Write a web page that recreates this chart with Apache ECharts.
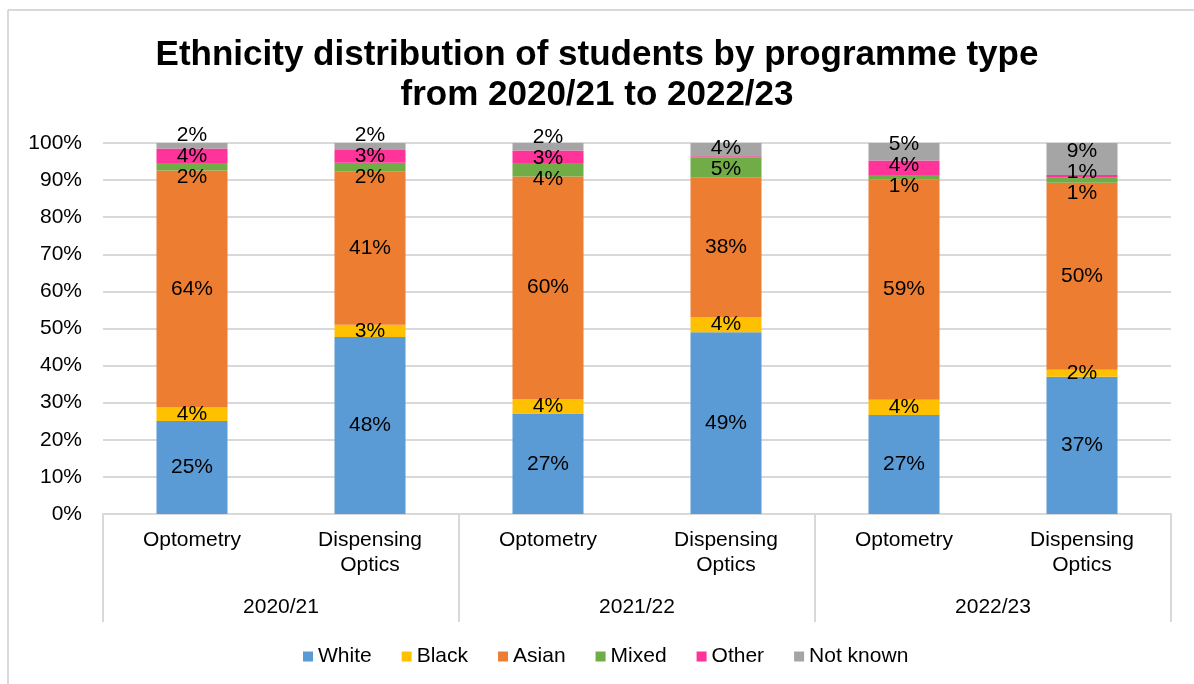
<!DOCTYPE html>
<html>
<head>
<meta charset="utf-8">
<script src="https://cdn.jsdelivr.net/npm/echarts@6/dist/echarts.min.js"></script>
<style>
  html, body { margin: 0; padding: 0; background: #fff; }
  #chart { width: 1194px; height: 684px; }
</style>
</head>
<body>
<div id="chart"></div>
<script>
// Programmes within each academic year
const programmes = ['Optometry', 'Dispensing\nOptics', 'Optometry', 'Dispensing\nOptics', 'Optometry', 'Dispensing\nOptics'];
const years = ['2020/21', '2021/22', '2022/23'];
const yTicks = [0, 10, 20, 30, 40, 50, 60, 70, 80, 90, 100];

// Share of students (%) by ethnicity
const white    = [25.1, 47.7, 27.1, 49.0, 26.7, 37.0];
const black    = [3.6, 3.3, 3.9, 4.1, 4.1, 1.9];
const asian    = [63.9, 41.4, 60.0, 37.7, 59.4, 50.4];
const mixed    = [2.0, 2.3, 3.6, 5.3, 1.2, 1.3];
const other    = [3.9, 3.4, 3.4, 0.3, 3.9, 0.8];
const notKnown = [1.5, 1.9, 2.0, 3.6, 4.7, 8.6];

const seriesDefs = [
  { name: 'White', data: white, color: '#5B9BD5' },
  { name: 'Black', data: black, color: '#FFC000' },
  { name: 'Asian', data: asian, color: '#ED7D31' },
  { name: 'Mixed', data: mixed, color: '#70AD47' },
  { name: 'Other', data: other, color: '#FF3399' },
  { name: 'Not known', data: notKnown, color: '#A5A5A5' }
];

const FONT = '"Liberation Sans", Arial, sans-serif';
const LABEL_GAP = 21;   // minimum vertical distance between stacked value labels (px)
const showLabel = v => v >= 0.5;

const chart = echarts.init(document.getElementById('chart'), null, { renderer: 'canvas' });

function buildSeries(offsets) {
  return seriesDefs.map((s, si) => ({
    name: s.name,
    type: 'bar',
    stack: 'total',
    xAxisIndex: 0,
    barWidth: 71,
    data: s.data.map((v, ci) => ({
      value: v,
      label: { offset: [0, offsets ? offsets[si][ci] : 0] }
    })),
    itemStyle: { color: s.color },
    label: {
      show: true,
      position: 'inside',
      fontFamily: FONT,
      fontSize: 21,
      color: '#000',
      formatter: p => (showLabel(p.value) ? Math.round(p.value) + '%' : '')
    }
  }));
}

chart.setOption({
  backgroundColor: '#fff',
  animation: false,
  textStyle: { fontFamily: FONT },
  title: {
    text: 'Ethnicity distribution of students by programme type\nfrom 2020/21 to 2022/23',
    left: 'center',
    top: 30,
    textStyle: { fontFamily: FONT, fontSize: 35, fontWeight: 'bold', color: '#000', lineHeight: 40 }
  },
  graphic: [
    { type: 'line', shape: { x1: 8, y1: 10, x2: 8, y2: 684 }, style: { stroke: '#D9D9D9', lineWidth: 2 } },
    { type: 'line', shape: { x1: 8, y1: 10, x2: 1194, y2: 10 }, style: { stroke: '#D9D9D9', lineWidth: 2 } }
  ],
  legend: {
    bottom: 12,
    left: 298,
    itemWidth: 10,
    itemHeight: 10,
    itemGap: 30,
    icon: 'rect',
    textStyle: { fontFamily: FONT, fontSize: 21, color: '#000' },
    data: seriesDefs.map(s => s.name)
  },
  grid: { left: 103, right: 23, top: 143, bottom: 170, containLabel: false },
  xAxis: [
    {
      type: 'category',
      data: programmes,
      position: 'bottom',
      axisLine: { show: true, lineStyle: { color: '#D9D9D9', width: 2 } },
      axisTick: { show: false },
      axisLabel: { fontFamily: FONT, fontSize: 21, color: '#000', margin: 14, lineHeight: 25, interval: 0 }
    },
    {
      type: 'category',
      data: years,
      position: 'bottom',
      axisLine: { show: false },
      axisTick: { show: true, length: 108, lineStyle: { color: '#D9D9D9', width: 2 } },
      axisLabel: { fontFamily: FONT, fontSize: 21, color: '#000', margin: 83 },
      splitLine: { show: false }
    }
  ],
  yAxis: {
    type: 'value',
    min: yTicks[0],
    max: yTicks[yTicks.length - 1],
    interval: 10,
    axisLine: { show: false },
    axisTick: { show: false },
    axisLabel: { fontFamily: FONT, fontSize: 21, color: '#000', margin: 21, formatter: v => v + '%' },
    splitLine: { lineStyle: { color: '#D9D9D9', width: 2 } }
  },
  series: buildSeries(null)
});

// Spread apart value labels of thin neighbouring segments so they don't collide.
const offsets = seriesDefs.map(() => programmes.map(() => 0));
programmes.forEach((_, ci) => {
  let base = 0;
  const items = [];
  seriesDefs.forEach((s, si) => {
    const v = s.data[ci];
    const mid = base + v / 2;
    base += v;
    if (showLabel(v)) {
      items.push({ si, want: chart.convertToPixel({ gridIndex: 0 }, [ci, mid])[1] });
    }
  });
  items.sort((a, b) => a.want - b.want);
  // group overlapping labels and centre each group on its mean desired position
  let groups = items.map(it => ({ members: [it], center: it.want }));
  let merged = true;
  while (merged) {
    merged = false;
    for (let g = 0; g < groups.length - 1; g++) {
      const a = groups[g], b = groups[g + 1];
      const aBottom = a.center + (a.members.length - 1) * LABEL_GAP / 2;
      const bTop = b.center - (b.members.length - 1) * LABEL_GAP / 2;
      if (bTop - aBottom < LABEL_GAP) {
        const members = a.members.concat(b.members);
        const center = members.reduce((t, m) => t + m.want, 0) / members.length;
        groups.splice(g, 2, { members, center });
        merged = true;
        break;
      }
    }
  }
  groups.forEach(g => {
    const n = g.members.length;
    g.members.forEach((m, k) => {
      const y = g.center + (k - (n - 1) / 2) * LABEL_GAP;
      offsets[m.si][ci] = y - m.want;
    });
  });
});
chart.setOption({ series: buildSeries(offsets) });
</script>
</body>
</html>
